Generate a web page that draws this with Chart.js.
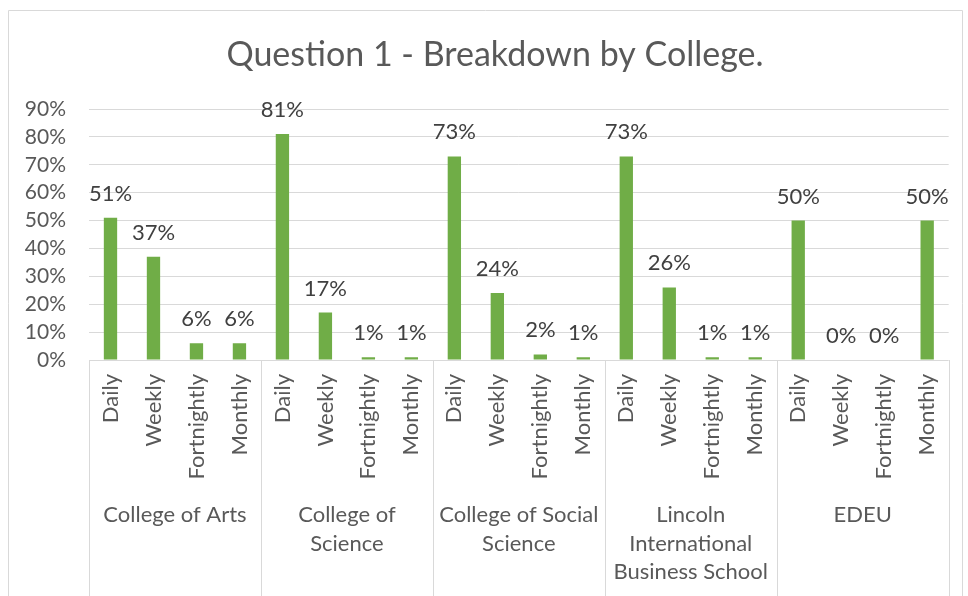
<!DOCTYPE html>
<html>
<head>
<meta charset="utf-8">
<script src="https://cdn.jsdelivr.net/npm/chart.js@4.4.1/dist/chart.umd.min.js"></script>
<style>
  html, body { margin: 0; padding: 0; background: #fff; }
  #wrap { width: 968px; height: 596px; }
</style>
</head>
<body>
<div id="wrap"><canvas id="chart" width="968" height="596"></canvas></div>
<script>
// Sıklık kategorileri ve kolejler
const freqs = ['Daily', 'Weekly', 'Fortnightly', 'Monthly'];
const colleges = [
    ['College of Arts'],
    ['College of', 'Science'],
    ['College of Social', 'Science'],
    ['Lincoln', 'International', 'Business School'],
    ['EDEU']
];

// Her kolej için yüzde değerleri (Daily, Weekly, Fortnightly, Monthly)
const arts = [51, 37, 6, 6];
const science = [81, 17, 1, 1];
const socialScience = [73, 24, 2, 1];
const lincoln = [73, 26, 1, 1];
const edeu = [50, 0, 0, 50];

// y ekseni: 0% - 90%, 10'ar adım
const yMax = 90;
const yStep = 10;

const chartTitle = 'Question 1 - Breakdown by College.';

const FONT = 'Lato, "Open Sans", sans-serif';
const LINE = '#d9d9d9';

const labels = [];
colleges.forEach(() => freqs.forEach(f => labels.push(f)));
const values = [].concat(arts, science, socialScience, lincoln, edeu);

// Çerçeve, başlık ve grup ayraçları
const framePlugin = {
    id: 'frame',
    beforeDraw(chart) {
        const ctx = chart.ctx;
        ctx.save();
        ctx.strokeStyle = LINE;
        ctx.lineWidth = 1;
        ctx.beginPath();
        ctx.moveTo(8.5, 600);
        ctx.lineTo(8.5, 10.5);
        ctx.lineTo(962.5, 10.5);
        ctx.lineTo(962.5, 600);
        ctx.stroke();

        ctx.fillStyle = '#595959';
        ctx.font = '34px ' + FONT;
        ctx.textAlign = 'center';
        ctx.textBaseline = 'alphabetic';
        ctx.fillText(chartTitle, 495, 66);
        ctx.restore();
    },
    afterDraw(chart) {
        const ctx = chart.ctx;
        const x = chart.scales.x;
        const area = chart.chartArea;
        const n = freqs.length;
        ctx.save();
        ctx.strokeStyle = LINE;
        ctx.lineWidth = 1;
        // grup sınırları
        for (let g = 0; g <= colleges.length; g++) {
            let px;
            if (g === 0) px = area.left;
            else if (g === colleges.length) px = area.right;
            else px = (x.getPixelForValue(g * n - 1) + x.getPixelForValue(g * n)) / 2;
            px = Math.round(px) + 0.5;
            ctx.beginPath();
            ctx.moveTo(px, area.bottom);
            ctx.lineTo(px, 596);
            ctx.stroke();
        }
        // kolej adları
        ctx.fillStyle = '#595959';
        ctx.font = '22px ' + FONT;
        ctx.textAlign = 'center';
        ctx.textBaseline = 'middle';
        colleges.forEach((lines, g) => {
            const cx = (x.getPixelForValue(g * n) + x.getPixelForValue(g * n + n - 1)) / 2;
            lines.forEach((t, i) => ctx.fillText(t, cx, 515 + i * 28.5));
        });
        ctx.restore();
    }
};

// Çubukların üstüne yüzde etiketi yaz
const valueLabels = {
    id: 'valueLabels',
    afterDatasetsDraw(chart) {
        const ctx = chart.ctx;
        const meta = chart.getDatasetMeta(0);
        ctx.save();
        ctx.fillStyle = '#404040';
        ctx.font = '22px ' + FONT;
        ctx.textAlign = 'center';
        ctx.textBaseline = 'alphabetic';
        meta.data.forEach((bar, i) => {
            ctx.fillText(values[i] + '%', bar.x, bar.y - 17);
        });
        ctx.restore();
    }
};

new Chart(document.getElementById('chart'), {
    type: 'bar',
    data: {
        labels: labels,
        datasets: [{
            data: values,
            backgroundColor: '#70ad47',
            borderWidth: 0,
            barPercentage: 0.62,
            categoryPercentage: 0.5
        }]
    },
    options: {
        responsive: false,
        animation: false,
        layout: { padding: { top: 109, left: 20, right: 17, bottom: 0 } },
        plugins: {
            legend: { display: false },
            tooltip: { enabled: false }
        },
        scales: {
            x: {
                grid: { display: false, drawTicks: false },
                border: { display: false },
                ticks: {
                    color: '#595959',
                    font: { family: FONT, size: 22 },
                    minRotation: 90,
                    maxRotation: 90,
                    autoSkip: false,
                    padding: 14
                },
                afterFit(scale) { scale.height = 236; }
            },
            y: {
                min: 0,
                max: yMax,
                grid: { color: LINE, drawTicks: false },
                border: { display: false },
                ticks: {
                    stepSize: yStep,
                    autoSkip: false,
                    color: '#595959',
                    font: { family: FONT, size: 21 },
                    padding: 23,
                    callback: v => v + '%'
                },
                afterFit(scale) { scale.width = 69; }
            }
        }
    },
    plugins: [framePlugin, valueLabels]
});
</script>
</body>
</html>
